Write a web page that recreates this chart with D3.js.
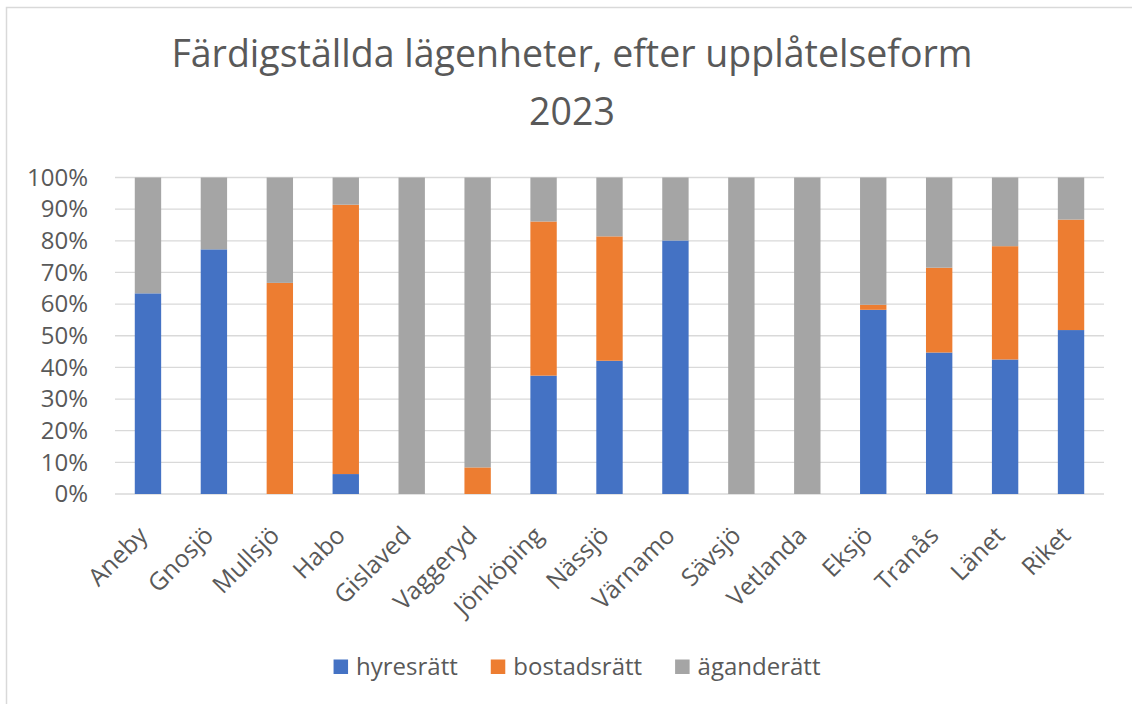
<!DOCTYPE html>
<html>
<head>
<meta charset="utf-8">
<script src="https://cdn.jsdelivr.net/npm/d3@7"></script>
<style>
  body { margin: 0; background: #ffffff; }
  svg { display: block; font-family: "Open Sans", sans-serif; }
</style>
</head>
<body>
<div id="chart"></div>
<script>
const FRAME_WIDTH = 1132;
const FRAME_HEIGHT = 704;
const MARGINS = {left: 115, right: 28, top: 177.5, bottom: 210};
const VIS_WIDTH = FRAME_WIDTH - MARGINS.left - MARGINS.right;
const VIS_HEIGHT = FRAME_HEIGHT - MARGINS.top - MARGINS.bottom;
const CENTER_X = 572;

// data (share of completed flats, %)
const CATEGORIES = ["Aneby", "Gnosjö", "Mullsjö", "Habo", "Gislaved", "Vaggeryd", "Jönköping",
                    "Nässjö", "Värnamo", "Sävsjö", "Vetlanda", "Eksjö", "Tranås", "Länet", "Riket"];
const SERIES = ["hyresrätt", "bostadsrätt", "äganderätt"];
const HYRESRATT   = [63.4, 77.3, 0,    6.3,  0,   0,    37.4, 42.1, 80.1, 0,   0,   58.2, 44.7, 42.5, 51.8];
const BOSTADSRATT = [0,    0,    66.7, 85.1, 0,   8.4,  48.7, 39.3, 0,    0,   0,   1.6,  26.8, 35.8, 34.9];
const AGANDERATT  = [36.6, 22.7, 33.3, 8.6,  100, 91.6, 13.9, 18.6, 19.9, 100, 100, 40.2, 28.5, 21.7, 13.3];
const Y_TICKS = [0, 10, 20, 30, 40, 50, 60, 70, 80, 90, 100];
const COLORS = ["#4472c4", "#ed7d31", "#a5a5a5"];

const ROWS = CATEGORIES.map((c, i) => {
    return {cat: c, "hyresrätt": HYRESRATT[i], "bostadsrätt": BOSTADSRATT[i], "äganderätt": AGANDERATT[i]};
});

const FRAME = d3.select("#chart")
                .append("svg")
                  .attr("width", FRAME_WIDTH)
                  .attr("height", FRAME_HEIGHT);

// chart border (only top and left visible in the crop)
FRAME.append("rect")
    .attr("x", 6.5)
    .attr("y", 7.5)
    .attr("width", FRAME_WIDTH + 20)
    .attr("height", FRAME_HEIGHT + 20)
    .attr("fill", "none")
    .attr("stroke", "#d9d9d9")
    .attr("stroke-width", 1.5);

// title
const TITLE = FRAME.append("text")
    .attr("text-anchor", "middle")
    .attr("fill", "#595959")
    .attr("font-size", "37.5px");
TITLE.append("tspan").attr("x", CENTER_X).attr("y", 67).text("Färdigställda lägenheter, efter upplåtelseform");
TITLE.append("tspan").attr("x", CENTER_X).attr("y", 125).text("2023");

const X_SCALE = d3.scaleBand()
    .domain(CATEGORIES)
    .range([0, VIS_WIDTH])
    .paddingInner(0.6)
    .paddingOuter(0.3);

const Y_SCALE = d3.scaleLinear()
    .domain([0, 100])
    .range([VIS_HEIGHT, 0]);

const PLOT = FRAME.append("g")
    .attr("transform", "translate(" + MARGINS.left + "," + MARGINS.top + ")");

// gridlines
PLOT.selectAll(".grid")
    .data(Y_TICKS)
    .enter()
    .append("line")
      .attr("x1", 0)
      .attr("x2", VIS_WIDTH)
      .attr("y1", (d) => Y_SCALE(d))
      .attr("y2", (d) => Y_SCALE(d))
      .attr("stroke", "#d9d9d9")
      .attr("stroke-width", 1.3);

// stacked bars
const STACK = d3.stack().keys(SERIES)(ROWS);

PLOT.selectAll(".series")
    .data(STACK)
    .enter()
    .append("g")
      .attr("fill", (d, i) => COLORS[i])
    .selectAll("rect")
    .data((d) => d)
    .enter()
    .append("rect")
      .attr("x", (d) => X_SCALE(d.data.cat))
      .attr("y", (d) => Y_SCALE(d[1]))
      .attr("width", X_SCALE.bandwidth())
      .attr("height", (d) => Y_SCALE(d[0]) - Y_SCALE(d[1]));

// y axis
const Y_AXIS = PLOT.append("g")
    .call(d3.axisLeft(Y_SCALE).tickValues(Y_TICKS).tickSize(0).tickPadding(27)
            .tickFormat((d) => d + "%"));
Y_AXIS.select(".domain").remove();
Y_AXIS.selectAll("text")
    .attr("font-size", "24px")
    .attr("font-family", "Open Sans, sans-serif")
    .attr("fill", "#595959");

// x axis (labels only, rotated)
const X_AXIS = PLOT.append("g")
    .attr("transform", "translate(0," + VIS_HEIGHT + ")")
    .call(d3.axisBottom(X_SCALE).tickSize(0).tickPadding(0));
X_AXIS.select(".domain").remove();
X_AXIS.selectAll("text")
    .attr("font-size", "24.5px")
    .attr("font-family", "Open Sans, sans-serif")
    .attr("fill", "#595959")
    .attr("text-anchor", "end")
    .attr("dy", null)
    .attr("y", 0)
    .attr("transform", "translate(1,43) rotate(-45)");

// legend
const LEGEND = FRAME.append("g");
const ITEMS = LEGEND.selectAll(".item")
    .data(SERIES)
    .enter()
    .append("g");
ITEMS.append("rect")
    .attr("width", 14.5)
    .attr("height", 14.5)
    .attr("y", 659.5)
    .attr("fill", (d, i) => COLORS[i]);
ITEMS.append("text")
    .attr("x", 22.5)
    .attr("y", 675)
    .attr("font-size", "24px")
    .attr("fill", "#595959")
    .text((d) => d);

// lay out legend items centred under the title
let widths = [];
ITEMS.each(function () { widths.push(this.getBBox().width); });
const GAP = 33;
const TOTAL = d3.sum(widths) + GAP * (widths.length - 1);
let cursor = CENTER_X + 5 - TOTAL / 2;
ITEMS.attr("transform", (d, i) => {
    const x = cursor;
    cursor += widths[i] + GAP;
    return "translate(" + x + ",0)";
});
</script>
</body>
</html>
